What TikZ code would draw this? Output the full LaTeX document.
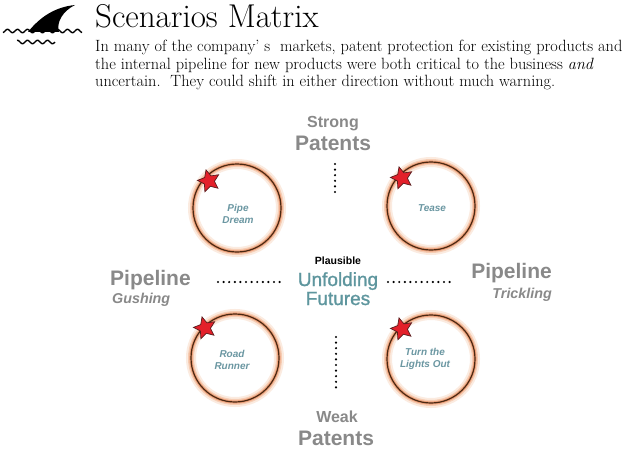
\documentclass[tikz,border=0pt]{standalone}
\usepackage{fontspec}
\newfontfamily\lsans{Liberation Sans}
\newfontfamily\lsanssemi[FakeBold=1.2]{Liberation Sans}
\usetikzlibrary{shapes.geometric}
\definecolor{labgray}{HTML}{898989}
\definecolor{labteal}{HTML}{6B97A2}
\definecolor{centeal}{HTML}{5E969E}
\definecolor{ringc}{HTML}{4A2812}
\definecolor{glowA}{HTML}{FBEBE0}
\definecolor{glowB}{HTML}{F6CDB4}
\definecolor{glowC}{HTML}{EDA07A}
\definecolor{starred}{HTML}{E3202A}
\definecolor{starline}{HTML}{5A1E1E}
\begin{document}
\begin{tikzpicture}[x=1pt,y=-1pt,
  scen/.style={circle, draw=ringc, line width=1.2pt, minimum size=88pt, inner sep=0pt,
     preaction={draw=glowA, line width=10pt},
     preaction={draw=glowB, line width=6pt},
     preaction={draw=glowC, line width=3.2pt}},
  redstar/.style={star, star points=5, star point ratio=2.1, minimum size=23pt, inner sep=0pt,
     fill=starred, draw=starline, line width=0.7pt, rotate=15},
  clabel/.style={font=\lsans\bfseries\itshape\fontsize{10}{11.5}\selectfont, text=labteal, align=center},
  axisbig/.style={font=\lsans\bfseries\fontsize{21}{24}\selectfont, text=labgray, anchor=base, inner sep=0pt},
  axissmall/.style={font=\lsans\bfseries\fontsize{16}{18}\selectfont, text=labgray, anchor=base, inner sep=0pt},
  axisital/.style={font=\lsans\bfseries\itshape\fontsize{14.3}{16}\selectfont, text=labgray, anchor=base, inner sep=0pt},
  bodyline/.style={anchor=base west, inner sep=0pt, font=\fontsize{16.3}{17}\selectfont},
  dotline/.style={line width=2.4pt, line cap=round, dash pattern=on 0pt off 5.6pt, black},
  wave/.style={line width=1.4pt, black},
]
\useasboundingbox[fill=white] (0,0) rectangle (628,452);

% header icon
\fill[black] (28,32) .. controls (40,17) and (55,7) .. (75,5)
   .. controls (63,11) and (56,22) .. (59,32) -- cycle;
\draw[wave] plot[domain=3:82, samples=90] (\x, {31+1.7*sin(\x*36)});
\draw[wave] plot[domain=17:55, samples=50] (\x, {42+1.7*sin(\x*36)});

% header text
\node[anchor=base west, inner sep=0pt, font=\fontsize{33}{36}\selectfont] (title) at (95,28) {Scenarios Matrix};
\node[bodyline] (body1) at (95,52) {In many of the company’ s\ \ markets, patent protection for existing products and};
\node[bodyline] (body2) at (95,69) {the internal pipeline for new products were both critical to the business \emph{and}};
\node[bodyline] (body3) at (95,86) {uncertain.\ \ They could shift in either direction without much warning.};

% scenario circles
\node[scen] (pd) at (237,208) {};
\node[scen] (te) at (431,206) {};
\node[scen] (rr) at (235,358) {};
\node[scen] (tl) at (431,359) {};

\node[redstar] (s1) at (209,181) {};
\node[redstar] (s2) at (402,178) {};
\node[redstar] (s3) at (205,328) {};
\node[redstar] (s4) at (402,329) {};

\node[clabel] (lpd) at (238,214) {Pipe\\Dream};
\node[clabel] (lte) at (432,208) {Tease};
\node[clabel] (lrr) at (232,360) {Road\\Runner};
\node[clabel] (ltl) at (425,359) {Turn the\\Lights Out};

% axis labels
\node[axissmall] (strong) at (333,127) {Strong};
\node[axisbig] (patT) at (333,150) {Patents};
\node[axissmall] (weak) at (337,422) {Weak};
\node[axisbig] (patB) at (336,445) {Patents};
\node[axisbig, anchor=base west] (pipeL) at (110,285) {Pipeline};
\node[axisital, anchor=base west] (gush) at (112,303) {Gushing};
\node[axisbig, anchor=base east] (pipeR) at (552,278) {Pipeline};
\node[axisital, anchor=base east] (trick) at (552,298) {Trickling};

% centre
\node[font=\lsans\bfseries\fontsize{10.5}{12}\selectfont, anchor=base, inner sep=0pt] (plaus) at (338,264) {Plausible};
\node[font=\lsanssemi\fontsize{19}{22}\selectfont, text=centeal, anchor=base, inner sep=0pt] (unf) at (338,286) {Unfolding};
\node[font=\lsanssemi\fontsize{19}{22}\selectfont, text=centeal, anchor=base, inner sep=0pt] (fut) at (338,305) {Futures};

% dotted axes
\coordinate (vt1) at (335,164); \coordinate (vt2) at (335,196);
\coordinate (vb1) at (336,337); \coordinate (vb2) at (336,388);
\coordinate (hl1) at (218,282); \coordinate (hl2) at (285,282);
\coordinate (hr1) at (388,282); \coordinate (hr2) at (452,282);
\draw[dotline] (vt1) -- (vt2);
\draw[dotline] (vb1) -- (vb2);
\draw[dotline] (hl1) -- (hl2);
\draw[dotline] (hr1) -- (hr2);
\end{tikzpicture}
\end{document}
